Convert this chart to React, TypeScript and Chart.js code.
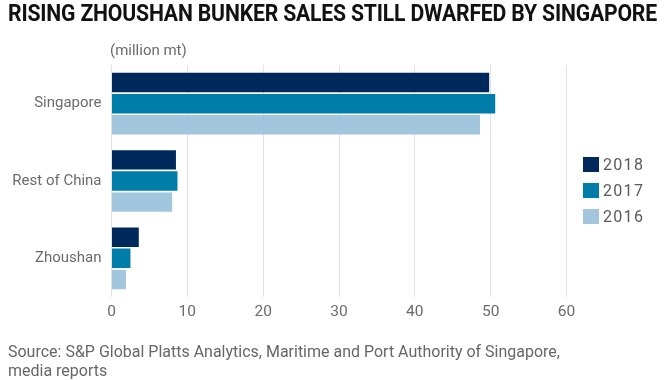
import React, { useEffect, useLayoutEffect, useRef } from 'react';
import { Chart, registerables } from 'chart.js';

Chart.register(...registerables);

const categories = ['Singapore', 'Rest of China', 'Zhoushan'];
const years = ['2018', '2017', '2016'];
const sales2018 = [49.8, 8.5, 3.6];
const sales2017 = [50.6, 8.7, 2.5];
const sales2016 = [48.6, 8.0, 1.9];
const xMin = 0;
const xMax = 60;
const xStep = 10;
const colors = ['#00295b', '#007ea9', '#a2c6dd'];

const titleText = 'RISING ZHOUSHAN BUNKER SALES STILL DWARFED BY SINGAPORE';
const unitText = '(million mt)';
const sourceLine1 = 'Source: S&P Global Platts Analytics, Maritime and Port Authority of Singapore,';
const sourceLine2 = 'media reports';

const FONT = 'Roboto, "Noto Sans", sans-serif';
const GREY = '#6b6b6b';

function fitWidth(el: HTMLElement | null, target: number) {
  if (!el) return 1;
  el.style.transform = 'none';
  const w = el.getBoundingClientRect().width;
  const k = w > 0 ? target / w : 1;
  el.style.transform = `scaleX(${k})`;
  return k;
}

export default function App() {
  const canvasRef = useRef<HTMLCanvasElement | null>(null);
  const titleRef = useRef<HTMLSpanElement | null>(null);
  const src1Ref = useRef<HTMLSpanElement | null>(null);
  const src2Ref = useRef<HTMLSpanElement | null>(null);

  useLayoutEffect(() => {
    document.body.style.margin = '0';
    const apply = () => {
      fitWidth(titleRef.current, 649);
      const k = fitWidth(src1Ref.current, 552);
      if (src2Ref.current) src2Ref.current.style.transform = `scaleX(${k})`;
    };
    apply();
    if ((document as any).fonts && (document as any).fonts.ready) {
      (document as any).fonts.ready.then(apply);
    }
  }, []);

  useEffect(() => {
    if (!canvasRef.current) return;
    const seriesValues = [sales2018, sales2017, sales2016];
    const chart = new Chart(canvasRef.current, {
      type: 'bar',
      data: {
        labels: categories,
        datasets: years.map((y, i) => ({
          label: y,
          data: seriesValues[i],
          backgroundColor: colors[i],
          borderWidth: 0,
          categoryPercentage: 0.82,
          barPercentage: 0.92,
        })),
      },
      options: {
        indexAxis: 'y',
        responsive: false,
        animation: false,
        layout: { padding: { top: 65, right: 103.5, left: 0, bottom: 0 } },
        plugins: {
          legend: { display: false },
          tooltip: { enabled: false },
          title: { display: false },
        },
        scales: {
          x: {
            min: xMin,
            max: xMax,
            ticks: {
              stepSize: xStep,
              padding: 6,
              color: GREY,
              font: { family: FONT, size: 15.5 },
            },
            grid: { color: '#e2e2e2', lineWidth: 1, drawTicks: false },
            border: { display: false },
            afterFit: (s: any) => {
              s.height = 83;
            },
          },
          y: {
            ticks: {
              padding: 10,
              color: GREY,
              font: { family: FONT, size: 15 },
            },
            grid: { display: false, drawTicks: false },
            border: { display: false },
            afterFit: (s: any) => {
              s.width = 111.5;
            },
          },
        },
      },
    });
    return () => chart.destroy();
  }, []);

  const legendTops = [157, 183, 209];

  return (
    <div style={{ position: 'relative', width: 670, height: 380, background: '#fff', overflow: 'hidden', fontFamily: FONT }}>
      <canvas ref={canvasRef} width={670} height={380} style={{ position: 'absolute', left: 0, top: 0, display: 'block' }} />
      <div style={{ position: 'absolute', left: 8, top: 2, whiteSpace: 'nowrap', lineHeight: '23px' }}>
        <span
          ref={titleRef}
          style={{ display: 'inline-block', fontSize: 23, fontWeight: 700, color: '#111', transformOrigin: 'left center', letterSpacing: '-0.2px' }}
        >
          {titleText}
        </span>
      </div>
      <div style={{ position: 'absolute', left: 110, top: 43, fontSize: 15, lineHeight: '15px', color: GREY, whiteSpace: 'nowrap' }}>
        {unitText}
      </div>
      {years.map((y, i) => (
        <div key={y} style={{ position: 'absolute', left: 583, top: legendTops[i], height: 15, display: 'flex', alignItems: 'center' }}>
          <div style={{ width: 16, height: 15, background: colors[i] }} />
          <span style={{ marginLeft: 4, fontSize: 16, lineHeight: '15px', color: '#5a5a5a', letterSpacing: '1.3px' }}>{y}</span>
        </div>
      ))}
      <div style={{ position: 'absolute', left: 8, top: 342, fontSize: 16, lineHeight: '19px', color: '#666', whiteSpace: 'nowrap' }}>
        <span ref={src1Ref} style={{ display: 'inline-block', transformOrigin: 'left center' }}>{sourceLine1}</span>
        <br />
        <span ref={src2Ref} style={{ display: 'inline-block', transformOrigin: 'left center' }}>{sourceLine2}</span>
      </div>
    </div>
  );
}
